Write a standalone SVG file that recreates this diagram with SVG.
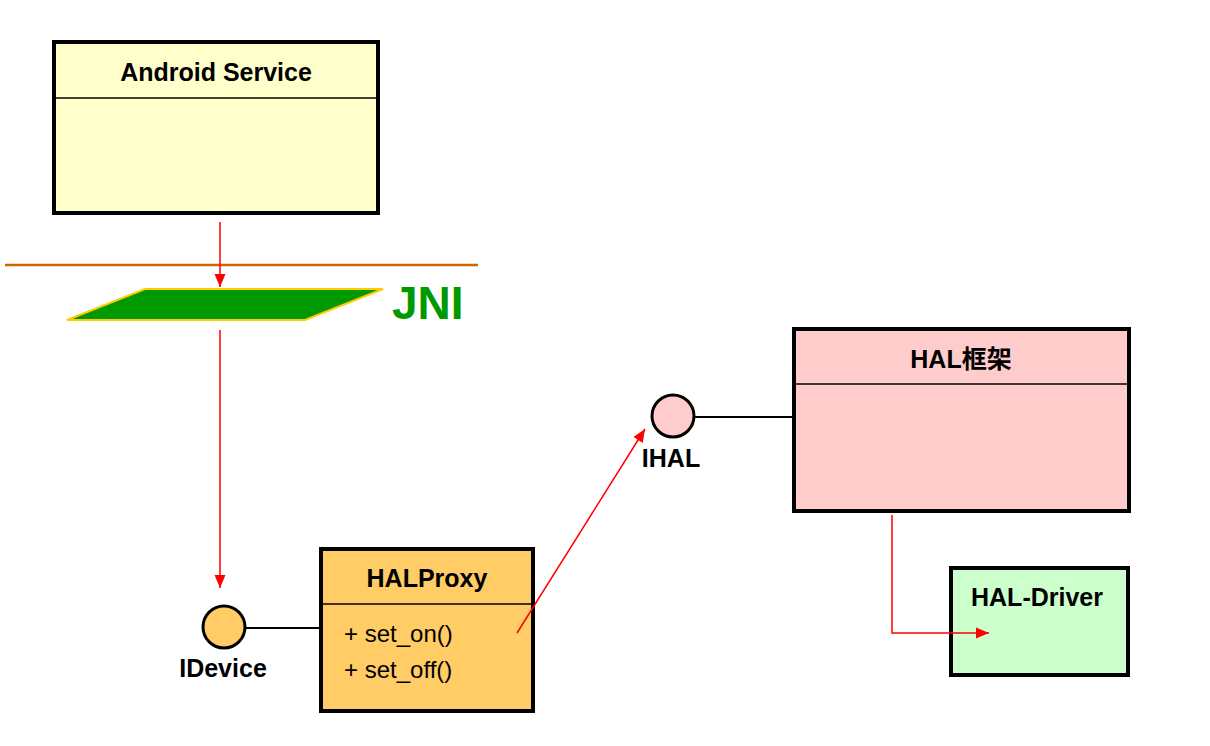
<svg xmlns="http://www.w3.org/2000/svg" width="1210" height="746" viewBox="0 0 1210 746">
<style>
.box{stroke:#000;stroke-width:4}
.sep{stroke:#000;stroke-width:1.5}
.title{font-family:"Liberation Sans",Arial,"Noto Sans CJK SC",sans-serif;font-weight:bold;font-size:25px;fill:#000;text-anchor:middle}
.op{font-family:"Liberation Sans",Arial,sans-serif;font-size:24px;fill:#000}
.lbl{font-family:"Liberation Sans",Arial,sans-serif;font-weight:bold;font-size:25px;fill:#000;text-anchor:middle}
.iface{stroke:#000;stroke-width:3}
.link{stroke:#000;stroke-width:2;fill:none}
.red{stroke:#FF0000;stroke-width:1.5;fill:none;marker-end:url(#arr)}
</style>
<defs>
<marker id="arr" markerUnits="userSpaceOnUse" markerWidth="14" markerHeight="14" viewBox="0 0 14 14" refX="13" refY="7" orient="auto">
<path d="M0,1.5 L13,7 L0,12.5 Z" fill="#FF0000"/>
</marker>
</defs>
<rect width="1210" height="746" fill="#fff"/>

<g id="layer-line">
<line x1="5" y1="265" x2="478" y2="265" stroke="#CC6600" stroke-width="2.5"/>
</g>

<g id="android-service">
<rect class="box" x="54" y="42" width="324" height="171" fill="#FFFFCC"/>
<line class="sep" x1="54" y1="98" x2="378" y2="98"/>
<text class="title" x="216" y="81">Android Service</text>
</g>

<g id="jni">
<polygon points="67,320 145,289 383,289 305,320" fill="#009900" stroke="#FFCC00" stroke-width="2"/>
<text x="392" y="319" font-family="'Liberation Sans',Arial,sans-serif" font-weight="bold" font-size="46" fill="#009900">JNI</text>
</g>

<g id="idevice">
<line class="link" x1="246" y1="628" x2="320" y2="628"/>
<circle class="iface" cx="224" cy="627" r="21" fill="#FFCC66"/>
<text class="lbl" x="223" y="677">IDevice</text>
</g>

<g id="halproxy">
<rect class="box" x="321" y="549" width="212" height="162" fill="#FFCC66"/>
<line class="sep" x1="321" y1="604" x2="533" y2="604"/>
<text class="title" x="427" y="587">HALProxy</text>
<text class="op" x="344" y="642">+ set_on()</text>
<text class="op" x="344" y="678">+ set_off()</text>
</g>

<g id="ihal">
<line class="link" x1="695" y1="417" x2="794" y2="417"/>
<circle class="iface" cx="673" cy="416" r="21" fill="#FFCCCC"/>
<text class="lbl" x="671" y="467" font-size="24">IHAL</text>
</g>

<g id="hal-framework">
<rect class="box" x="794" y="329" width="335" height="182" fill="#FFCCCC"/>
<line class="sep" x1="794" y1="384" x2="1129" y2="384"/>
<text class="title" x="961" y="368">HAL框架</text>
</g>

<g id="hal-driver">
<rect class="box" x="951" y="568" width="177" height="107" fill="#CCFFCC"/>
<text class="title" x="1037" y="606">HAL-Driver</text>
</g>

<g id="connectors">
<line class="red" x1="220" y1="222" x2="220" y2="287"/>
<line class="red" x1="220" y1="330" x2="220" y2="588"/>
<line class="red" x1="517" y1="633" x2="645" y2="429"/>
<polyline class="red" points="892,515 892,633 989,633"/>
</g>
</svg>
